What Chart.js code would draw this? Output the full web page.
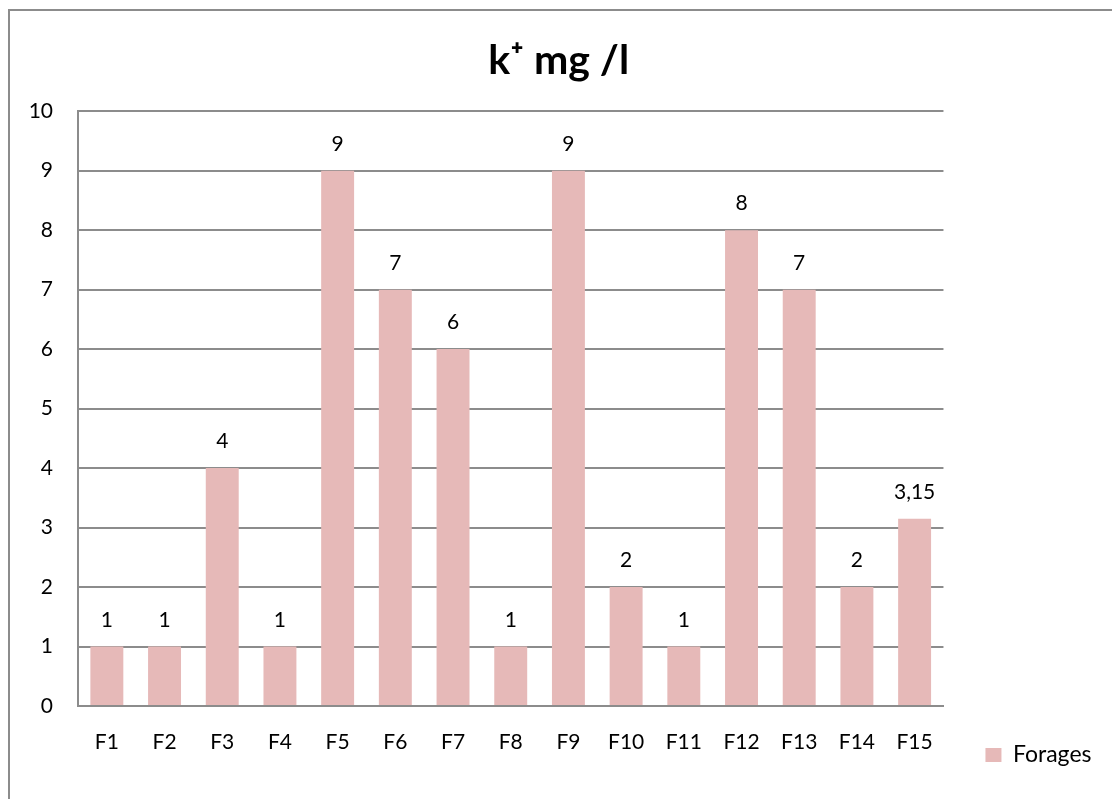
<!DOCTYPE html>
<html><head><meta charset="utf-8">
<script src="https://cdn.jsdelivr.net/npm/chart.js@4.4.1/dist/chart.umd.min.js"></script>
<style>
html,body{margin:0;padding:0;background:#fff;overflow:hidden;width:1112px;height:799px;}
#frame{position:absolute;left:8px;top:9px;width:1200px;height:900px;border-left:2px solid #8c8c8c;border-top:2px solid #8c8c8c;}
#wrap{position:absolute;left:0;top:0;width:1120px;height:830px;}
</style></head><body>
<div id="frame"></div>
<div id="wrap"><canvas id="c" width="1120" height="830"></canvas></div>
<script>
const categories = ['F1','F2','F3','F4','F5','F6','F7','F8','F9','F10','F11','F12','F13','F14','F15'];
const values = [1, 1, 4, 1, 9, 7, 6, 1, 9, 2, 1, 8, 7, 2, 3.15];
const yTickValues = [0,1,2,3,4,5,6,7,8,9,10];
const seriesName = 'Forages';
const chartTitle = 'k\u207A mg /l';

const FONT = 'Lato';
const barColor = '#E6B9B8';
const gridColor = '#8c8c8c';

const valueLabels = {
  id: 'valueLabels',
  afterDatasetsDraw(chart) {
    const ctx = chart.ctx;
    const meta = chart.getDatasetMeta(0);
    ctx.save();
    ctx.font = '21px ' + FONT;
    ctx.fillStyle = '#000';
    ctx.textAlign = 'center';
    ctx.textBaseline = 'alphabetic';
    meta.data.forEach((bar, i) => {
      ctx.fillText(String(values[i]).replace('.', ','), bar.x, bar.y - 20);
    });
    ctx.restore();
  }
};

new Chart(document.getElementById('c'), {
  type: 'bar',
  data: {
    labels: categories,
    datasets: [{
      label: seriesName,
      data: values,
      backgroundColor: barColor,
      borderWidth: 0,
      barPercentage: 0.571,
      categoryPercentage: 1.0
    }]
  },
  options: {
    responsive: false,
    animation: false,
    devicePixelRatio: 1,
    layout: { padding: { left: 16, right: 18.5, top: 10, bottom: 21.5 } },
    plugins: {
      title: {
        display: true,
        text: chartTitle,
        color: '#000',
        font: { family: FONT, size: 41, weight: 'bold', lineHeight: 1.2 },
        padding: { top: 26, bottom: 26 }
      },
      legend: {
        display: true,
        position: 'right',
        align: 'end',
        labels: {
          color: '#000',
          font: { family: FONT, size: 23 },
          boxWidth: 16,
          boxHeight: 14,
          padding: 42
        }
      },
      tooltip: { enabled: false }
    },
    scales: {
      x: {
        grid: { display: false, drawTicks: false },
        border: { display: true, color: gridColor, width: 2 },
        ticks: { color: '#000', font: { family: FONT, size: 21 }, padding: 24, maxRotation: 0, autoSkip: false },
        afterFit(scale) { scale.height = 102.5; }
      },
      y: {
        min: 0,
        max: 10,
        grid: { color: gridColor, lineWidth: 2, drawTicks: false },
        border: { display: true, color: gridColor, width: 2 },
        ticks: {
          color: '#000',
          font: { family: FONT, size: 21 },
          padding: 25,
          stepSize: 1,
          callback: (v) => yTickValues.includes(v) ? String(v) : ''
        },
        afterFit(scale) { scale.width = 62; }
      }
    }
  },
  plugins: [valueLabels]
});
</script>
</body></html>
